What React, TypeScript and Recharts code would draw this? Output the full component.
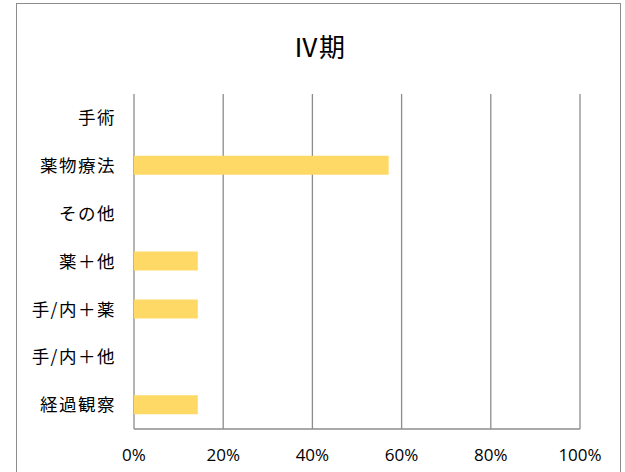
import { BarChart, Bar, XAxis, YAxis, CartesianGrid } from "recharts"

const categories = ["手術", "薬物療法", "その他", "薬＋他", "手/内＋薬", "手/内＋他", "経過観察"]
const shares = [0, 0.571, 0, 0.143, 0.143, 0, 0.143]
const xTicks = [0, 0.2, 0.4, 0.6, 0.8, 1]

const data = categories.map((name, i) => ({ name, value: shares[i] }))

const grey = "#8c8c8c"

export default function App() {
    return (
        <div style={{ position: "absolute", left: 0, top: 0, width: 625, height: 472, background: "#fff" }}>
            <div
                style={{
                    position: "absolute",
                    left: 16,
                    top: 3,
                    width: 605,
                    height: 470,
                    border: `1px solid ${grey}`,
                    boxSizing: "border-box",
                }}
            />
            <div
                style={{
                    position: "absolute",
                    left: 17,
                    width: 604,
                    top: 30,
                    textAlign: "center",
                    fontFamily: "'Noto Sans CJK JP', sans-serif",
                    fontSize: 26,
                    fontWeight: 400,
                    color: "#000",
                    lineHeight: "32px",
                }}
            >
                Ⅳ期
            </div>
            <div style={{ position: "absolute", left: 0, top: 0 }}>
                <BarChart
                    width={625}
                    height={472}
                    data={data}
                    layout="vertical"
                    margin={{ top: 94, right: 45, bottom: 0, left: 0 }}
                >
                    <CartesianGrid horizontal={false} stroke={grey} strokeWidth={1.3} />
                    <XAxis
                        type="number"
                        domain={[0, 1]}
                        ticks={xTicks}
                        tickFormatter={(v) => `${Math.round(v * 100)}%`}
                        tickLine={false}
                        tickSize={0}
                        tickMargin={20}
                        height={43}
                        axisLine={{ stroke: grey, strokeWidth: 1.3 }}
                        tick={{ fill: "#000", fontSize: 17, fontFamily: "'Open Sans', sans-serif" }}
                    />
                    <YAxis
                        type="category"
                        dataKey="name"
                        width={134}
                        tickLine={false}
                        axisLine={false}
                        tickSize={0}
                        tickMargin={18}
                        tick={{
                            fill: "#000",
                            fontSize: 17.5,
                            letterSpacing: 1.5,
                            fontFamily: "'Noto Sans CJK JP', sans-serif",
                        }}
                    />
                    <Bar dataKey="value" fill="#ffd966" barSize={19} isAnimationActive={false} />
                </BarChart>
            </div>
        </div>
    )
}
